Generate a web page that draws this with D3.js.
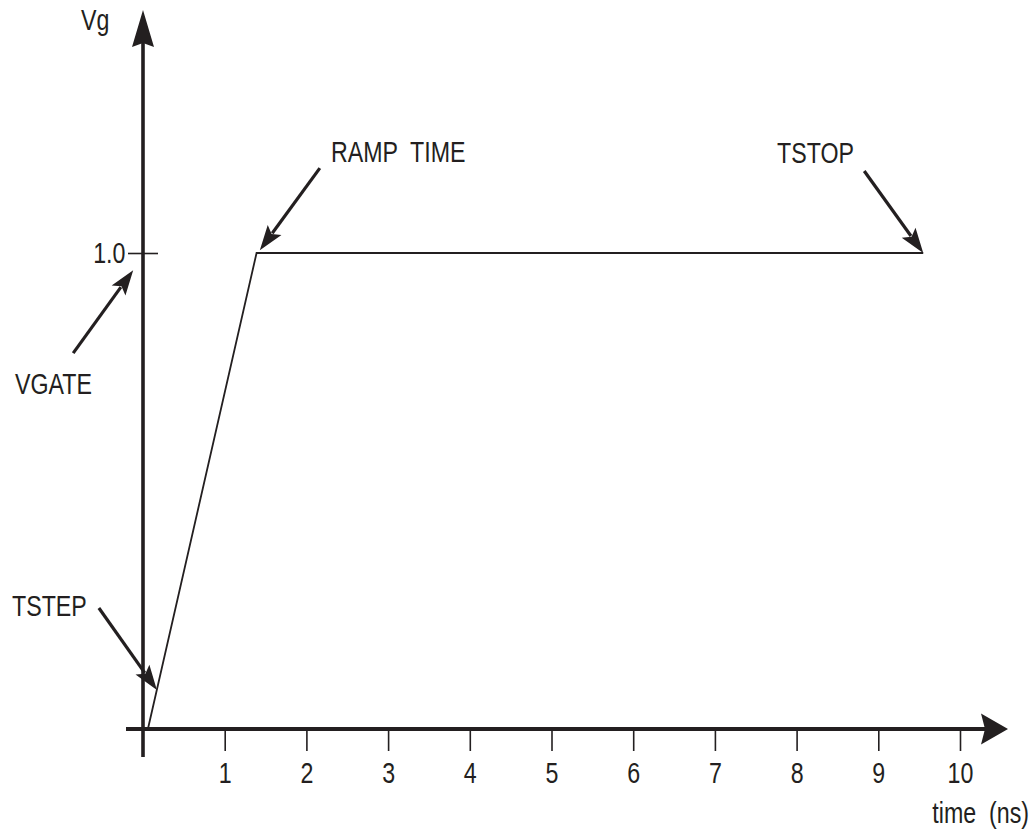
<!DOCTYPE html>
<html>
<head>
<meta charset="utf-8">
<script src="https://cdn.jsdelivr.net/npm/d3@7"></script>
<style>
  body { margin: 0; background: #fff; }
  text { font-family: "Liberation Sans", Arial, sans-serif; fill: #231f20; white-space: pre; }
</style>
</head>
<body>
<div id="wrapper"></div>
<script>
/// Data ///
const times = [0.06, 1.39, 9.55];   // ns
const vgate = [0, 1, 1];            // Vg
const xTicks = [1, 2, 3, 4, 5, 6, 7, 8, 9, 10];
const yTicks = [1.0];
const xTitle = "time  (ns)";
const yTitle = "Vg";

// annotation labels and where their arrows point (data coords)
const noteLabels = ["TSTEP", "VGATE", "RAMP  TIME", "TSTOP"];
const noteTipT = [0.17, -0.12, 1.43, 9.55];
const noteTipV = [0.082, 0.964, 1.006, 1.0];

/// Dimensions ///
const width = 1032;
const height = 833;
const ink = "#231f20";
const fontSize = 29;
const squeeze = 0.8; // narrow sans look

const svg = d3.select("#wrapper").append("svg")
  .attr("width", width)
  .attr("height", height);

/// Scales ///
const x = d3.scaleLinear().domain([0, 10]).range([143, 960]);
const y = d3.scaleLinear().domain([0, 1]).range([729, 253]);

/// Axis lines with arrowheads ///
svg.append("line")
  .attr("x1", 126).attr("x2", 990)
  .attr("y1", y(0)).attr("y2", y(0))
  .attr("stroke", ink).attr("stroke-width", 4);
svg.append("path")
  .attr("d", `M1008,${y(0)} L981,${y(0) - 15.5} L985,${y(0)} L981,${y(0) + 15.5} Z`)
  .attr("fill", ink);

svg.append("line")
  .attr("x1", x(0)).attr("x2", x(0))
  .attr("y1", 757).attr("y2", 30)
  .attr("stroke", ink).attr("stroke-width", 3.6);
svg.append("path")
  .attr("d", `M${x(0)},10 L${x(0) - 11},47 L${x(0)},43 L${x(0) + 11},47 Z`)
  .attr("fill", ink);

/// Axes ticks ///
const xAxis = svg.append("g")
  .attr("transform", `translate(0, ${y(0)})`)
  .call(d3.axisBottom(x).tickValues(xTicks).tickSize(22).tickPadding(11).tickFormat(d3.format("d")));
xAxis.select(".domain").remove();
xAxis.selectAll(".tick line").attr("stroke", ink).attr("stroke-width", 1.6).attr("y1", 2);
xAxis.selectAll(".tick text")
  .attr("font-size", fontSize).attr("font-family", null)
  .attr("transform", `scale(${squeeze},1)`)
  .attr("fill", ink);

const yAxis = svg.append("g")
  .attr("transform", `translate(${x(0)}, 0)`)
  .call(d3.axisLeft(y).tickValues(yTicks).tickSize(15).tickPadding(7).tickFormat(d3.format(".1f")));
yAxis.select(".domain").remove();
yAxis.selectAll(".tick line").attr("stroke", ink).attr("stroke-width", 1.6).attr("x1", 15);
yAxis.selectAll(".tick text")
  .attr("font-size", fontSize).attr("font-family", null)
  .attr("transform", `scale(${squeeze},1)`)
  .attr("fill", ink);

/// Titles ///
const label = (tx, ty, str, anchor) => svg.append("text")
  .attr("transform", `translate(${tx},${ty}) scale(${squeeze},1)`)
  .attr("text-anchor", anchor || "start")
  .attr("font-size", fontSize)
  .text(str);

label(81, 30, yTitle);
label(1029, 823, xTitle, "end");

/// Waveform ///
const line = d3.line()
  .x((d, i) => x(times[i]))
  .y((d, i) => y(vgate[i]));
svg.append("path")
  .datum(vgate)
  .attr("d", line)
  .attr("fill", "none")
  .attr("stroke", ink)
  .attr("stroke-width", 1.8)
  .attr("stroke-linejoin", "miter");

/// Annotations ///
// tail offset from tip (px) and text anchor point
const noteTail = [[-58, -82], [-60, 83], [60, -82], [-59, -82]];
const noteText = [[12, 616], [15, 394], [331, 162], [777, 163]];

noteLabels.forEach((name, i) => {
  const tx = x(noteTipT[i]), ty = y(noteTipV[i]);
  const [dx, dy] = noteTail[i];
  const len = Math.hypot(dx, dy);
  const ux = -dx / len, uy = -dy / len; // direction toward tip
  const headLen = 25, headW = 8.5;
  const bx = tx - ux * headLen, by = ty - uy * headLen;
  svg.append("line")
    .attr("x1", tx + dx).attr("y1", ty + dy)
    .attr("x2", bx + ux * 4).attr("y2", by + uy * 4)
    .attr("stroke", ink).attr("stroke-width", 3.2);
  svg.append("path")
    .attr("d", `M${tx},${ty} L${bx - uy * headW},${by + ux * headW} L${bx + ux * 5},${by + uy * 5} L${bx + uy * headW},${by - ux * headW} Z`)
    .attr("fill", ink);
  label(noteText[i][0], noteText[i][1], name);
});
</script>
</body>
</html>
